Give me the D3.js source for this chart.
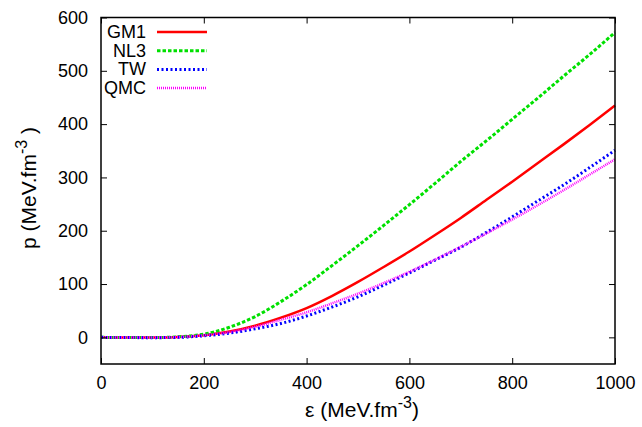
<!DOCTYPE html>
<html>
<head>
<meta charset="utf-8">
<script src="https://cdn.jsdelivr.net/npm/d3@7"></script>
<style>
  body { margin: 0; background: #fff; }
  svg text { font-family: "Liberation Sans", Arial, sans-serif; fill: #000; }
</style>
</head>
<body>
<div id="chart"></div>
<script>
// energy density grid (MeV.fm^-3)
const eps = [0, 50, 100, 150, 200, 250, 300, 350, 400, 450, 500, 550, 600, 650, 700, 750, 800, 850, 900, 950, 1000];

// pressure values
const gm1 = [0, -0.3, -0.5, 0.5, 4, 11, 22, 37, 55, 78, 104, 132, 161, 192, 224, 258, 292, 327, 362, 398, 435];
const nl3 = [0, -0.3, -0.5, 1, 6, 19, 39, 67, 99, 135, 172, 210, 249, 289, 330, 369, 409, 449, 490, 530, 572];
const tw  = [0, -0.4, -0.6, 0, 3, 8, 16, 26, 40, 57, 76, 98, 121, 145, 169, 197, 226, 256, 286, 318, 351];
const qmc = [0, -0.3, -0.4, 0.5, 4, 10, 20, 33, 47, 64, 82, 102, 123, 146, 170, 195, 221, 248, 276, 305, 334];

const xTicks = [0, 200, 400, 600, 800, 1000];
const yTicks = [0, 100, 200, 300, 400, 500, 600];

const series = [
    {name: "GM1", values: gm1, color: "#ff0000", width: 2.5, dash: null},
    {name: "NL3", values: nl3, color: "#00e000", width: 3, dash: "3.5,2"},
    {name: "TW",  values: tw,  color: "#0000ff", width: 3, dash: "2,2.5"},
    {name: "QMC", values: qmc, color: "#ff00ff", width: 2.5, dash: "1,1"}
];

const W = 642, H = 427;
const margin = {top: 17.5, right: 27, bottom: 63, left: 101};

const svg = d3.select("#chart").append("svg")
    .attr("width", W)
    .attr("height", H);

const x = d3.scaleLinear().domain([0, 1000]).range([margin.left, W - margin.right]);
const y = d3.scaleLinear().domain([-50, 600]).range([H - margin.bottom, margin.top]);

/* curves */
const line = d3.line()
    .x(function(d, i) { return x(eps[i]); })
    .y(function(d) { return y(d); })
    .curve(d3.curveMonotoneX);

const plot = svg.append("g");
series.forEach(function(s) {
    plot.append("path")
        .datum(s.values)
        .attr("d", line)
        .attr("fill", "none")
        .attr("stroke", s.color)
        .attr("stroke-width", s.width)
        .attr("stroke-dasharray", s.dash);
});

/* axes, ticks pointing inward on all four sides */
const tickLen = 6;
const fmt = d3.format("d");
svg.append("g")
    .attr("transform", "translate(0," + y(-50) + ")")
    .call(d3.axisBottom(x).tickValues(xTicks).tickFormat(fmt).tickSizeInner(-tickLen).tickSizeOuter(0).tickPadding(12));
svg.append("g")
    .attr("transform", "translate(0," + y(600) + ")")
    .call(d3.axisTop(x).tickValues(xTicks).tickSizeInner(-tickLen).tickSizeOuter(0).tickFormat(""));
svg.append("g")
    .attr("transform", "translate(" + x(0) + ",0)")
    .call(d3.axisLeft(y).tickValues(yTicks).tickFormat(fmt).tickSizeInner(-tickLen).tickSizeOuter(0).tickPadding(13));
svg.append("g")
    .attr("transform", "translate(" + x(1000) + ",0)")
    .call(d3.axisRight(y).tickValues(yTicks).tickSizeInner(-tickLen).tickSizeOuter(0).tickFormat(""));

svg.selectAll(".domain").attr("stroke", "none");
svg.selectAll(".tick line").attr("stroke", "#000").attr("stroke-width", 1);
svg.selectAll(".tick text").attr("font-size", 18).attr("font-family", "Liberation Sans, Arial, sans-serif");

// frame
svg.append("rect")
    .attr("x", x(0))
    .attr("y", y(600))
    .attr("width", x(1000) - x(0))
    .attr("height", y(-50) - y(600))
    .attr("fill", "none")
    .attr("stroke", "#000")
    .attr("stroke-width", 1.5);

/* axis titles */
const xt = svg.append("text")
    .attr("x", 362)
    .attr("y", 417)
    .attr("text-anchor", "middle")
    .attr("font-size", 21);
xt.append("tspan").text("ε (MeV.fm");
xt.append("tspan").attr("dy", -9).attr("font-size", 16).text("-3");
xt.append("tspan").attr("dy", 9).text(")");

const yt = svg.append("text")
    .attr("transform", "translate(36,188) rotate(-90)")
    .attr("text-anchor", "middle")
    .attr("font-size", 21);
yt.append("tspan").text("p (MeV.fm");
yt.append("tspan").attr("dy", -9).attr("font-size", 16).text("-3");
yt.append("tspan").attr("dy", 9).text(" )");

/* legend */
const legend = svg.append("g");
series.forEach(function(s, i) {
    const ly = 32 + i * 18.7;
    legend.append("text")
        .attr("x", 146)
        .attr("y", ly + 6)
        .attr("text-anchor", "end")
        .attr("font-size", 18)
        .text(s.name);
    legend.append("line")
        .attr("x1", 157).attr("x2", 207)
        .attr("y1", ly).attr("y2", ly)
        .attr("stroke", s.color)
        .attr("stroke-width", s.width)
        .attr("stroke-dasharray", s.dash);
});
</script>
</body>
</html>
